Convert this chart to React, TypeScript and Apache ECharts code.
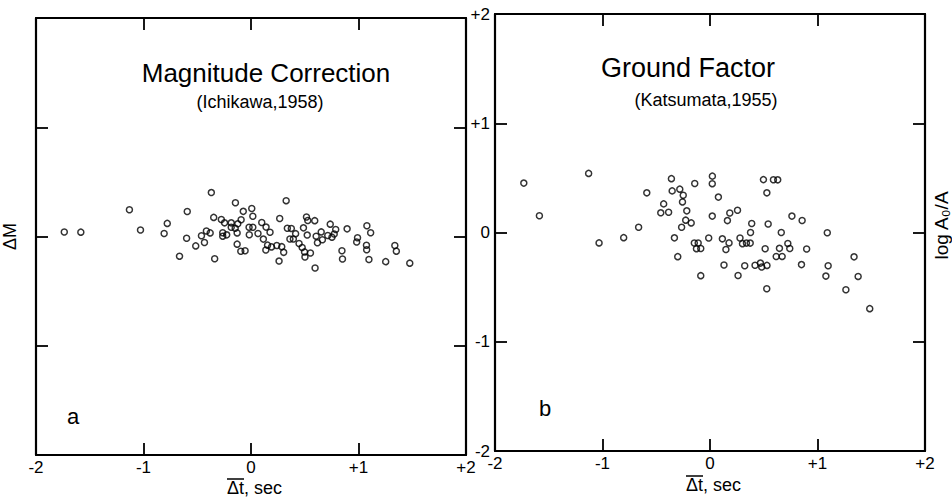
import React, { useEffect, useRef } from "react";
import * as echarts from "echarts";

// Axis ticks and their printed labels
const tickValues = [-2, -1, 0, 1, 2];
const tickLabels = ["-2", "-1", "0", "+1", "+2"];

// Panel a: Magnitude Correction (Ichikawa, 1958) — Δt (sec) vs ΔM
const magX = [
  -1.737, -1.583, -1.131, -1.028, -0.779, -0.808, -0.593, -0.369, -0.599, -0.514,
  -0.665, -0.338, -0.433, -0.461, -0.415, -0.38, -0.347, -0.276, -0.246, -0.184,
  -0.145, -0.072, 0.007, 0.017, -0.092, -0.123, -0.184, -0.147, -0.263, -0.263,
  -0.226, -0.129, -0.018, 0.017, -0.016, 0.065, -0.129, -0.095, -0.055, 0.1,
  0.14, 0.177, 0.115, 0.154, 0.138, 0.191, 0.24, 0.286, 0.304, 0.261,
  0.267, 0.327, 0.338, 0.375, 0.415, 0.362, 0.394, 0.447, 0.476, 0.498,
  0.553, 0.502, 0.596, 0.516, 0.528, 0.593, 0.488, 0.523, 0.606, 0.653,
  0.664, 0.618, 0.714, 0.753, 0.737, 0.788, 0.774, 0.894, 0.846, 0.851,
  0.991, 0.983, 1.078, 1.113, 1.074, 1.076, 1.097, 1.253, 1.477, 1.338,
  1.352,
];
const magY = [
  0.041, 0.04, 0.245, 0.06, 0.12, 0.027, 0.229, 0.402, -0.016, -0.086,
  -0.18, -0.204, -0.055, 0.007, 0.051, 0.033, 0.175, 0.155, 0.125, 0.125,
  0.309, 0.23, 0.256, 0.186, 0.153, 0.116, 0.085, 0.075, 0.034, 0.003,
  0.015, 0.033, 0.085, 0.084, 0.016, 0.027, -0.07, -0.135, -0.131, 0.128,
  0.086, 0.039, -0.024, -0.079, -0.123, -0.095, -0.082, -0.093, -0.145, -0.225,
  0.165, 0.328, 0.075, 0.074, 0.026, -0.023, -0.023, -0.064, -0.1, -0.141,
  -0.151, -0.187, -0.289, 0.179, 0.147, 0.145, 0.079, 0.013, 0.003, 0.042,
  -0.03, -0.057, 0.009, -0.006, 0.113, 0.064, 0.023, 0.07, -0.13, -0.206,
  -0.012, -0.051, 0.098, 0.034, -0.08, -0.121, -0.21, -0.23, -0.244, -0.083,
  -0.134,
];

// Panel b: Ground Factor (Katsumata, 1955) — Δt (sec) vs log A0/A
const groundX = [
  -1.732, -1.587, -1.129, -1.032, -0.803, -0.664, -0.588, -0.431, -0.458, -0.385,
  -0.359, -0.352, -0.281, -0.249, -0.256, -0.216, -0.226, -0.175, -0.264, -0.331,
  -0.3, -0.142, -0.146, -0.11, -0.126, -0.086, -0.086, -0.012, 0.022, 0.021,
  0.021, 0.078, 0.115, 0.177, 0.148, 0.162, 0.184, 0.256, 0.13, 0.261,
  0.323, 0.279, 0.302, 0.339, 0.374, 0.388, 0.377, 0.419, 0.469, 0.481,
  0.53, 0.497, 0.59, 0.63, 0.529, 0.541, 0.513, 0.528, 0.646, 0.616,
  0.671, 0.663, 0.762, 0.857, 0.724, 0.742, 0.899, 0.851, 1.091, 1.078,
  1.099, 1.264, 1.34, 1.378, 1.486,
];
const groundY = [
  0.452, 0.153, 0.541, -0.095, -0.047, 0.048, 0.363, 0.262, 0.18, 0.185,
  0.493, 0.381, 0.397, 0.341, 0.28, 0.198, 0.113, 0.088, 0.048, -0.049,
  -0.221, 0.449, -0.096, -0.096, -0.148, -0.147, -0.395, -0.051, 0.516, 0.447,
  0.15, 0.324, -0.058, -0.095, -0.155, 0.109, 0.178, 0.204, -0.297, -0.394,
  -0.305, -0.05, -0.102, -0.097, -0.097, 0.082, 0.0, -0.3, -0.28, -0.316,
  -0.301, 0.484, 0.483, 0.482, 0.363, 0.078, -0.149, -0.515, -0.145, -0.22,
  -0.219, 0.0, 0.15, 0.11, -0.1, -0.146, -0.151, -0.294, -0.002, -0.399,
  -0.304, -0.524, -0.223, -0.402, -0.697,
];

const FONT = "'Liberation Sans', Arial, sans-serif";
const INK = "#000";

const fmt = (v: number) => {
  const i = tickValues.indexOf(Math.round(v));
  return i >= 0 ? tickLabels[i] : String(v);
};

function xAxisFor(gridIndex: number, position: "bottom" | "top", labels: boolean) {
  return {
    type: "value",
    gridIndex,
    position,
    min: -2,
    max: 2,
    interval: 1,
    axisLine: { show: true, onZero: false, lineStyle: { color: INK, width: 2.2 } },
    axisTick: { show: true, inside: true, length: 12, lineStyle: { color: INK, width: 1.8 } },
    axisLabel: {
      show: labels,
      formatter: fmt,
      margin: 4,
      color: INK,
      fontSize: 17,
      fontFamily: FONT,
      showMinLabel: true,
      showMaxLabel: true,
    },
    splitLine: { show: false },
  };
}

function yAxisFor(gridIndex: number, position: "left" | "right", labels: boolean, extra: any = {}) {
  return {
    type: "value",
    gridIndex,
    position,
    min: -2,
    max: 2,
    interval: 1,
    axisLine: { show: true, onZero: false, lineStyle: { color: INK, width: 2.2 } },
    axisTick: { show: true, inside: true, length: 12, lineStyle: { color: INK, width: 1.8 } },
    axisLabel: {
      show: labels,
      formatter: fmt,
      margin: 5,
      color: INK,
      fontSize: 17,
      fontFamily: FONT,
      showMinLabel: true,
      showMaxLabel: true,
    },
    splitLine: { show: false },
    ...extra,
  };
}

const circleStyle = {
  color: "rgba(0,0,0,0)",
  borderColor: INK,
  borderWidth: 1.5,
};

export default function App() {
  const ref = useRef<HTMLDivElement>(null);

  useEffect(() => {
    if (!ref.current) return;
    const chart = echarts.init(ref.current, null, { renderer: "svg" });

    const magData = magX.map((x, i) => [x, magY[i]]);
    const groundData = groundX.map((x, i) => [x, groundY[i]]);

    chart.setOption({
      animation: false,
      backgroundColor: "#fff",
      grid: [
        { left: 34, top: 18, width: 432, height: 437 },
        { left: 495, top: 14, width: 433, height: 437 },
      ],
      xAxis: [
        xAxisFor(0, "bottom", true),
        xAxisFor(0, "top", false),
        xAxisFor(1, "bottom", true),
        xAxisFor(1, "top", false),
      ],
      yAxis: [
        yAxisFor(0, "left", false, {
          name: "ΔM",
          nameLocation: "middle",
          nameRotate: 90,
          nameGap: 17,
          nameTextStyle: { color: INK, fontSize: 18, fontFamily: FONT },
        }),
        yAxisFor(0, "right", false),
        yAxisFor(1, "left", true),
        yAxisFor(1, "right", false, {
          name: "log A₀/A",
          nameLocation: "middle",
          nameRotate: 90,
          nameGap: 7,
          nameTextStyle: { color: INK, fontSize: 19, fontFamily: FONT, padding: [0, 0, 0, 14] },
        }),
      ],
      series: [
        {
          type: "scatter",
          name: "Magnitude Correction",
          xAxisIndex: 0,
          yAxisIndex: 0,
          data: magData,
          symbol: "circle",
          symbolSize: 6,
          itemStyle: circleStyle,
        },
        {
          type: "scatter",
          name: "Ground Factor",
          xAxisIndex: 2,
          yAxisIndex: 2,
          data: groundData,
          symbol: "circle",
          symbolSize: 6,
          itemStyle: circleStyle,
        },
      ],
      graphic: [
        {
          type: "text",
          x: 266,
          y: 73,
          style: { text: "Magnitude Correction", font: `26px ${FONT}`, fill: INK, align: "center", verticalAlign: "middle" },
        },
        {
          type: "text",
          x: 260,
          y: 102,
          style: { text: "(Ichikawa,1958)", font: `18px ${FONT}`, fill: INK, align: "center", verticalAlign: "middle" },
        },
        {
          type: "text",
          x: 688,
          y: 68,
          style: { text: "Ground Factor", font: `27px ${FONT}`, fill: INK, align: "center", verticalAlign: "middle" },
        },
        {
          type: "text",
          x: 706,
          y: 100,
          style: { text: "(Katsumata,1955)", font: `18px ${FONT}`, fill: INK, align: "center", verticalAlign: "middle" },
        },
        {
          type: "text",
          x: 73,
          y: 416,
          style: { text: "a", font: `22px ${FONT}`, fill: INK, align: "center", verticalAlign: "middle" },
        },
        {
          type: "text",
          x: 545,
          y: 408,
          style: { text: "b", font: `22px ${FONT}`, fill: INK, align: "center", verticalAlign: "middle" },
        },
        {
          type: "text",
          x: 227,
          y: 488,
          style: { text: "Δt, sec", font: `18px ${FONT}`, fill: INK, align: "left", verticalAlign: "middle" },
        },
        {
          type: "line",
          shape: { x1: 227, y1: 479, x2: 244, y2: 479 },
          style: { stroke: INK, lineWidth: 1.5 },
        },
        {
          type: "text",
          x: 686,
          y: 485,
          style: { text: "Δt, sec", font: `18px ${FONT}`, fill: INK, align: "left", verticalAlign: "middle" },
        },
        {
          type: "line",
          shape: { x1: 686, y1: 476, x2: 703, y2: 476 },
          style: { stroke: INK, lineWidth: 1.5 },
        },
      ],
    });

    return () => chart.dispose();
  }, []);

  return (
    <div
      ref={ref}
      style={{ position: "fixed", left: 0, top: 0, width: 952, height: 497, background: "#fff" }}
    />
  );
}
